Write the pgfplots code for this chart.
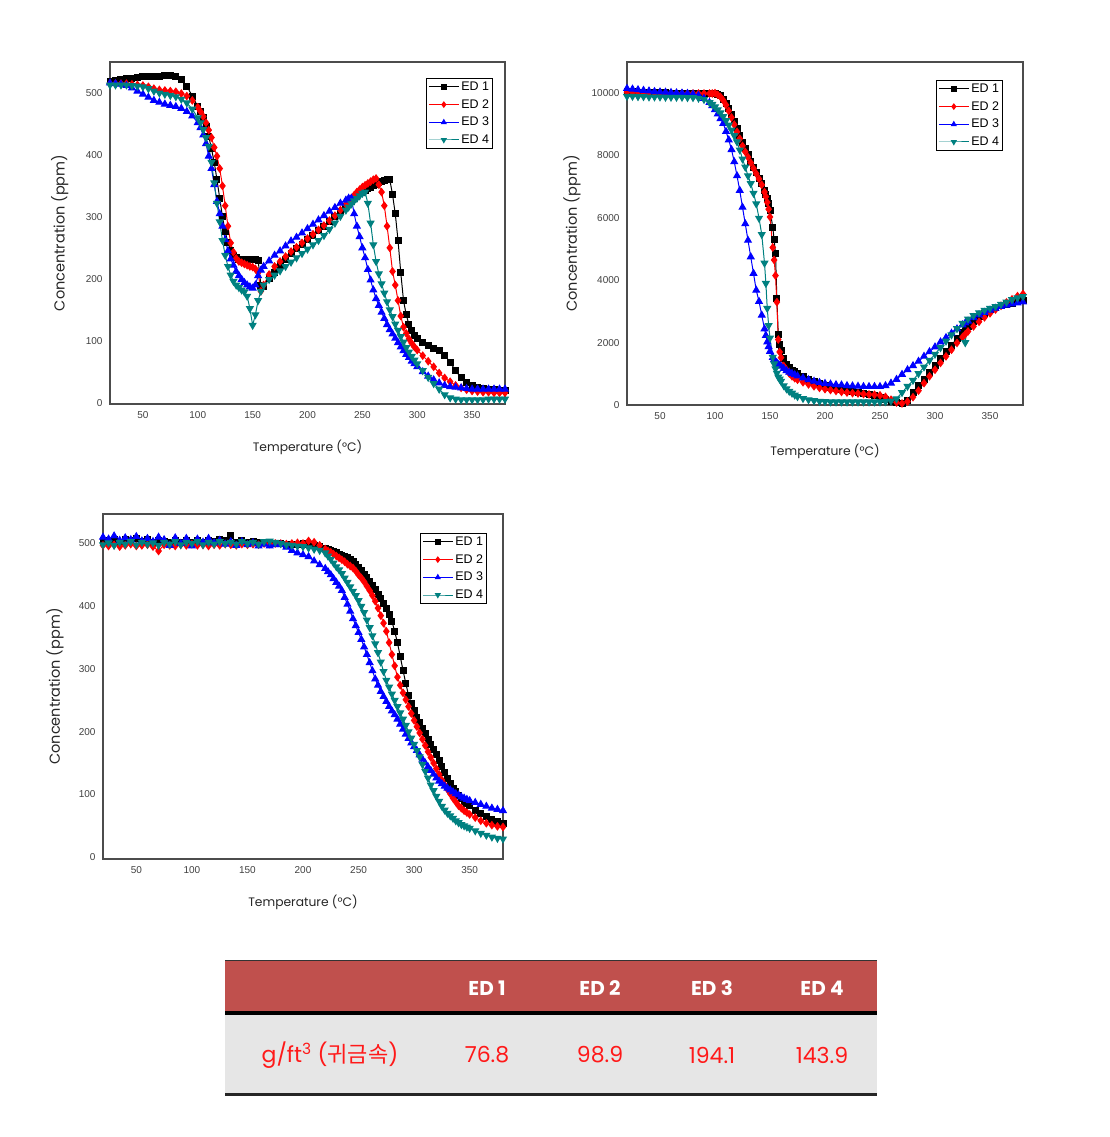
\documentclass[border=0pt]{standalone}
\usepackage{pgfplots}
\pgfplotsset{compat=1.18}
\usepackage{pgfplotstable}
\usepackage{fontspec}
\setmainfont{Liberation Sans}
\newfontfamily\gothic{Poppins}
\newfontfamily\kr{Noto Sans CJK KR}

\definecolor{edteal}{RGB}{0,128,128}
\definecolor{edred}{RGB}{255,0,0}
\definecolor{edblue}{RGB}{0,0,255}
\definecolor{tabred}{RGB}{192,80,77}
\definecolor{tabgray}{RGB}{230,230,230}
\definecolor{rowred}{RGB}{255,25,25}

% plot 1 (T, ED1..ED4)
\pgfplotstableread{
T ea eb ec ed
20 518 515 516 513
25 520 515 515 513
30 522 515 514 513
35 523 515 512 513
40 524 514 508 512
45 525 513 503 511
50 526 512 498 510
55 526 510 493 507
60 527 507 488 503
65 527 505 485 500
70 528 504 482 498
75 528 503 480 496
80 527 502 478 494
85 522 499 475 490
90 511 495 470 484
95 495 488 463 474
100 478 477 452 460
102.5 470 470 444 452
105 460 462 432 441
107.5 446 452 418 428
110 430 440 398 414
112.5 410 428 378 388
115 388 412 352 355
117.5 360 398 325 322
120 330 378 305 292
122.5 300 350 285 262
125 276 318 263 238
127.5 258 285 245 220
130 246 258 232 206
132.5 238 243 222 196
135 234 233 212 190
137.5 232 228 205 186
140 232 226 199 182
142.5 232 224 194 179
145 232 222 190 172
147.5 232 220 187 152
150 232 219 185 125
152.5 232 216 190 142
155 230 210 205 165
157.5 190 180 214 180
160 188 190 220 190
165 200 207 229 199
170 211 220 238 206
175 222 228 245 213
180 232 236 253 220
185 241 244 261 227
190 249 251 267 234
195 256 258 274 241
200 263 265 281 248
205 270 272 288 255
210 278 279 295 262
215 285 286 302 270
220 293 294 309 280
225 301 302 315 290
230 309 311 322 301
235 317 320 327 311
237.5 321 325 330 316
240 325 330 330 321
242.5 329 335 305 326
245 333 340 285 330
247.5 337 344 268 334
250 340 348 250 338
252.5 343 351 234 340
255 346 354 215 322
257.5 348 357 198 290
260 351 360 182 255
262.5 353 362 168 228
265 355 352 157 208
267.5 357 340 146 192
270 359 318 136 177
272.5 360 285 126 163
275 360 250 118 150
277.5 336 212 111 139
280 305 190 104 127
282.5 262 165 97 117
285 210 140 90 107
287.5 165 122 84 98
290 142 112 78 89
292.5 126 103 73 82
295 116 96 67 75
297.5 109 90 63 69
300 104 85 58 63
305 97 76 50 52
310 93 67 43 41
315 88 58 37 31
320 84 48 32 22
325 77 40 28 13
330 65 34 26 8
335 52 28 25 6
340 40 24 24 5
345 33 21 23 5
350 28 19 22 5
355 25 18 22 5
360 23 17 22 5
365 22 17 22 6
370 21 16 22 6
375 20 16 22 6
380 20 16 22 6
}\dataA

% plot 2
\pgfplotstableread{
T ea eb ec ed
20 10050 10030 10150 9900
25 10040 10030 10130 9900
30 10030 10020 10110 9890
35 10030 10020 10090 9890
40 10020 10010 10070 9880
45 10020 10010 10050 9880
50 10010 10000 10040 9880
55 10010 10000 10030 9870
60 10000 10000 10020 9870
65 10000 9990 10010 9870
70 9990 9990 10000 9870
75 9990 9990 9990 9860
80 9990 9990 9970 9860
85 9990 9990 9930 9840
90 9990 9990 9830 9800
95 9990 9990 9700 9700
97.5 9990 9990 9600 9640
100 9990 10000 9470 9560
102.5 9970 9950 9330 9470
105 9910 9880 9180 9370
107.5 9810 9770 9030 9250
110 9680 9620 8770 9120
112.5 9510 9430 8500 8980
115 9310 9220 8190 8820
117.5 9090 8990 7800 8640
120 8870 8760 7350 8440
122.5 8650 8540 6880 8180
125 8430 8310 6340 7890
127.5 8220 8120 5810 7630
130 8020 7950 5280 7350
132.5 7820 7770 4750 7100
135 7630 7590 4220 6790
137.5 7450 7420 3680 6450
140 7270 7250 3320 5990
142.5 7090 7060 2880 5470
145 6890 6830 2440 4550
146.25 6760 6680 2230 3900
147.5 6620 6500 2020 3100
148.75 6450 6280 1870 2550
150 6250 6030 1720 2150
152.5 5700 5050 1520 1530
153.75 5300 4650 1460 1320
155 4850 4150 1400 1160
156.25 3400 3300 1350 1020
157.5 2250 2100 1300 900
158.75 1950 1700 1270 830
160 1760 1520 1240 760
162.5 1480 1250 1170 620
165 1300 1130 1100 520
167.5 1200 1010 1050 440
170 1120 920 1010 380
172.5 1060 860 970 320
175 1000 810 930 270
180 900 730 870 210
185 810 660 810 170
190 740 600 760 140
195 680 550 720 120
200 620 510 690 110
205 570 480 670 100
210 530 450 650 100
215 490 420 640 100
220 460 400 620 100
225 430 380 610 100
230 400 370 600 100
235 370 350 590 100
240 340 340 590 100
245 300 330 590 100
250 250 310 590 100
255 190 260 620 110
260 120 170 700 130
265 70 80 820 200
270 40 50 980 400
275 150 110 1130 600
280 400 250 1260 790
285 610 460 1400 1010
290 830 700 1560 1220
295 1050 920 1710 1430
300 1270 1130 1860 1630
305 1490 1350 2020 1840
310 1700 1560 2160 2050
315 1920 1770 2300 2250
320 2130 1990 2440 2450
325 2330 2180 2570 2620
327.5 2420 2270 2630 2000
330 2510 2360 2690 2760
335 2680 2520 2800 2870
340 2840 2670 2890 2960
345 2950 2810 2970 3040
350 3050 2940 3040 3100
355 3120 3060 3100 3160
360 3180 3180 3160 3230
365 3230 3290 3200 3300
370 3270 3390 3240 3380
375 3310 3490 3270 3440
380 3350 3560 3300 3480
}\dataB

% plot 3
\pgfplotstableread{
T ea eb ec ed
20 505 497 510 498
25 503 496 507 501
30 506 498 512 497
35 502 495 505 502
40 507 497 509 499
45 504 499 506 503
50 508 496 511 498
55 503 497 504 502
60 506 498 508 499
65 502 495 503 501
70 505 488 510 497
75 503 498 506 502
80 501 497 497 499
85 504 496 509 503
90 502 498 500 498
95 505 497 508 502
100 501 499 496 500
105 504 497 507 503
110 502 498 502 498
115 505 496 508 502
120 503 498 501 499
125 506 497 505 503
130 504 499 499 500
135 512 498 503 502
140 502 497 497 499
145 504 499 503 503
150 502 498 498 500
155 503 499 501 502
160 501 498 496 499
165 502 500 499 503
170 501 499 496 504
175 500 500 498 502
180 500 500 498 500
185 499 499 494 498
190 499 500 489 497
195 499 501 485 496
200 500 500 482 495
205 499 504 479 493
210 497 502 472 491
215 495 497 466 489
220 492 491 460 485
222.5 490 488 455 480
225 489 486 450 475
227.5 487 483 444 469
230 485 480 438 463
232.5 483 477 432 458
235 481 474 425 452
237.5 479 471 414 445
240 477 467 403 438
242.5 475 464 392 431
245 472 461 380 424
247.5 467 456 369 417
250 462 450 358 409
252.5 457 445 347 400
255 451 439 335 390
257.5 445 432 323 378
260 439 425 310 366
262.5 433 417 297 353
265 426 408 284 340
267.5 419 397 274 326
270 412 385 264 311
272.5 404 373 256 296
275 396 360 248 282
277.5 387 342 240 271
280 376 323 233 260
282.5 360 305 227 250
285 342 287 220 240
287.5 320 274 212 230
290 298 262 204 220
292.5 277 251 196 210
295 258 240 189 200
297.5 245 229 182 190
300 233 218 176 180
302.5 223 208 170 170
305 214 198 163 160
307.5 205 188 156 148
310 197 178 150 137
312.5 188 168 144 126
315 180 159 138 115
317.5 171 150 132 106
320 163 141 126 97
322.5 154 132 121 89
325 145 123 117 81
327.5 135 115 113 75
330 126 108 110 70
332.5 118 101 107 66
335 110 94 104 62
337.5 104 88 101 58
340 98 82 99 55
342.5 93 78 96 52
345 89 74 94 50
347.5 85 71 92 48
350 82 68 90 46
355 75 63 87 42
360 70 58 84 38
365 65 54 81 35
370 60 51 78 32
375 56 49 76 30
380 53 48 74 29
}\dataC

\pgfplotsset{
  edaxis/.style={
    scale only axis,
    xmin=20, xmax=380,
    xtick={50,100,...,350},
    major tick length=0pt,
    scaled y ticks=false,
    axis line style={draw=black!70, line width=1.3pt},
    /pgf/number format/assume math mode=true,
    /pgf/number format/1000 sep={},
    tick label style={font=\fontsize{10}{12}\selectfont, text=black!75},
    xticklabel style={yshift=-4pt},
    yticklabel style={xshift=-4pt},
    xlabel={Temperature (°C)},
    ylabel={Concentration (ppm)},
    xlabel style={font=\gothic\fontsize{12.3}{14}\selectfont, text=black!85},
    ylabel style={font=\gothic\fontsize{14.5}{16}\selectfont, text=black!85},
    legend style={draw=black, line width=0.8pt, fill=white,
      font=\fontsize{12.5}{14}\selectfont, inner sep=1.5pt,
      row sep=3.5pt, cells={anchor=west}, anchor=north east},
    legend image code/.code={\draw[mark repeat=2,mark phase=2,#1,mark size=2.6pt]
      plot coordinates {(0pt,0pt) (15pt,0pt) (30pt,0pt)};},
  },
  ed1/.style={black, line width=1pt, mark=square*, mark size=3pt},
  ed2/.style={edred, line width=1pt, mark=diamond*, mark size=3.6pt},
  ed3/.style={edblue, line width=1pt, mark=triangle*, mark size=3.8pt},
  ed4/.style={edteal, line width=1pt, mark=triangle*, mark size=3.8pt,
    mark options={rotate=180}},
}

\begin{document}
\begin{tikzpicture}
\useasboundingbox (0pt,0pt) rectangle (1110pt,1137pt);

% top left
\begin{axis}[edaxis, at={(110pt,733pt)}, anchor=south west,
  width=395pt, height=342pt, ymin=-2, ymax=550, ytick={0,100,...,500},
  xlabel style={at={(axis description cs:0.5,-0.126)}, anchor=center},
  ylabel style={at={(axis description cs:-0.127,0.5)}, anchor=center},
  legend style={at={(axis description cs:1,1)}, xshift=-12pt, yshift=-16pt}]
\addplot[ed1] table[x=T,y=ea] {\dataA};
\addplot[ed2] table[x=T,y=eb] {\dataA};
\addplot[ed3] table[x=T,y=ec] {\dataA};
\addplot[ed4] table[x=T,y=ed] {\dataA};
\legend{ED 1, ED 2, ED 3, ED 4}
\end{axis}

% top right
\begin{axis}[edaxis, at={(627pt,732pt)}, anchor=south west,
  width=396pt, height=343pt, ymin=0, ymax=11000, ytick={0,2000,...,10000},
  xlabel style={at={(axis description cs:0.5,-0.134)}, anchor=center},
  ylabel style={at={(axis description cs:-0.139,0.5)}, anchor=center},
  legend style={at={(axis description cs:1,1)}, xshift=-20pt, yshift=-18pt}]
\addplot[ed1] table[x=T,y=ea] {\dataB};
\addplot[ed2] table[x=T,y=eb] {\dataB};
\addplot[ed3] table[x=T,y=ec] {\dataB};
\addplot[ed4] table[x=T,y=ed] {\dataB};
\legend{ED 1, ED 2, ED 3, ED 4}
\end{axis}

% bottom left
\begin{axis}[edaxis, at={(103pt,278pt)}, anchor=south west,
  width=400pt, height=345pt, ymin=-3, ymax=547, ytick={0,100,...,500},
  xlabel style={at={(axis description cs:0.5,-0.125)}, anchor=center},
  ylabel style={at={(axis description cs:-0.12,0.5)}, anchor=center},
  legend style={at={(axis description cs:1,1)}, xshift=-16pt, yshift=-19pt}]
\addplot[ed1] table[x=T,y=ea] {\dataC};
\addplot[ed2] table[x=T,y=eb] {\dataC};
\addplot[ed3] table[x=T,y=ec] {\dataC};
\addplot[ed4] table[x=T,y=ed] {\dataC};
\legend{ED 1, ED 2, ED 3, ED 4}
\end{axis}

% table of loadings
\fill[tabred] (225pt,126pt) rectangle (877pt,177pt);
\draw[black!80, line width=1.5pt] (225pt,176.5pt) -- (877pt,176.5pt);
\fill[black] (225pt,122pt) rectangle (877pt,126pt);
\fill[tabgray] (225pt,44pt) rectangle (877pt,122pt);
\fill[black!85] (225pt,41pt) rectangle (877pt,44pt);
\begin{scope}[every node/.style={font=\gothic\bfseries\fontsize{20}{24}\selectfont, text=white, anchor=center}]
\node at (487pt,149pt) {ED 1};
\node at (600pt,149pt) {ED 2};
\node at (712pt,149pt) {ED 3};
\node at (822pt,149pt) {ED 4};
\end{scope}
\begin{scope}[every node/.style={font=\gothic\fontsize{22}{26}\selectfont, text=rowred, anchor=center}]
\node at (330pt,82pt) {g/ft\textsuperscript{3} ({\kr 귀금속})};
\node at (487pt,82pt) {76.8};
\node at (600pt,82pt) {98.9};
\node at (712pt,82pt) {194.1};
\node at (822pt,82pt) {143.9};
\end{scope}
\end{tikzpicture}
\end{document}
